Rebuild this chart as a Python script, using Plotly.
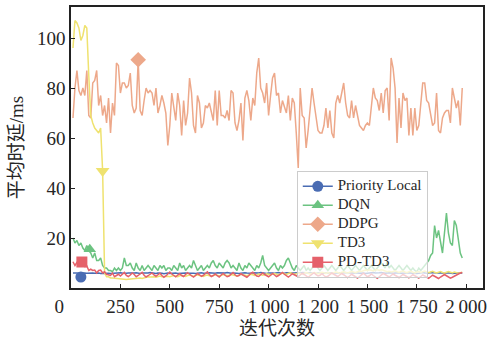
import plotly.graph_objects as go

# ---------------- data ----------------
ITER = list(range(10, 1990, 10))  # iteration grid (198 points)

PRIORITY_LOCAL = [
    6.0,6.1,6.0,5.9,6.0,6.1,6.0,5.9,6.0,6.1,
    6.0,5.9,6.1,6.0,5.8,5.9,6.0,6.1,5.9,5.8,
    5.9,6.0,5.8,5.9,6.1,6.0,5.8,5.9,6.0,5.9,
    5.8,6.0,6.1,5.9,5.8,6.0,5.9,5.8,6.0,6.2,
    6.0,5.9,5.8,6.0,6.1,5.9,5.7,5.9,6.0,5.8,
    5.9,6.1,6.0,5.8,5.9,6.1,6.2,6.0,5.9,6.0,
    6.1,5.9,5.8,6.0,6.2,6.1,5.9,5.8,6.0,6.1,
    6.0,5.8,5.9,6.1,6.0,5.9,5.8,6.0,6.2,6.0,
    5.9,6.0,6.1,5.9,5.8,6.0,5.9,6.1,6.0,5.8,
    5.9,6.1,6.0,5.8,6.0,6.2,6.0,5.9,5.8,6.0,
    6.1,6.0,5.9,6.1,6.2,6.0,5.8,5.9,6.1,6.0,
    5.9,5.8,6.0,6.1,5.9,6.0,6.2,6.1,5.9,5.8,
    6.0,6.1,5.9,5.8,6.0,6.1,6.0,5.9,6.0,6.2,
    6.1,5.9,5.8,6.0,6.1,5.9,6.0,6.2,6.1,5.9,
    5.8,6.0,6.1,6.2,6.0,5.9,6.1,6.0,5.8,5.9,
    6.1,6.3,6.2,6.0,5.9,6.1,6.2,6.0,5.9,6.0,
    6.2,6.1,5.9,6.0,6.2,6.1,5.9,5.8,6.0,6.1,
    6.0,5.9,6.1,6.0,5.8,5.9,6.1,6.2,6.0,5.9,
    6.0,6.2,6.1,5.9,5.8,6.0,6.1,5.9,5.8,6.0,
    6.1,6.0,5.8,5.9,6.1,6.0,5.9,6.0,
]

DQN = [
    20,18,19,17,18,16,15,17,15,14,
    12,14,11,11,12,9,8,8,7,7,
    6.5,8,7,8,7,8,12,9,9,10,
    8,7,10,8,7,9,7,8,9,8,
    7,9,8,7,9,8,9,7,8,8,
    7,9,8,7,10,8,9,7,8,9,
    8,11,9,7,8,9,7,8,9,8,
    10,11,9,8,10,9,8,10,11,10,
    8,9,8,7,10,8,7,9,8,10,
    9,8,7,9,8,10,13,9,8,7,
    8,9,10,8,7,9,8,9,11,12,
    10,8,7,9,8,7,8,9,7,8,
    7,8,9,10,8,7,8,9,8,7,
    8,9,8,7,8,9,8,7,8,9,
    8,7,8,9,8,7,8,9,8,7,
    8,9,8,7,8,9,10,9,8,10.5,
    8,9,8,7,8,9,8,7,8,9,
    8,7,8,7,6.5,8,7,8,9,10,
    11,13,14,25,20,23,18,14,22,30,
    22,18,17,27,25,20,14,12,
]

DDPG = [
    68,80,87,79,77,80,77,87,69,68,
    82,83,87,73,77,69,73,66,76,62,
    74,69,90,89,78,82,82,80,81,86,
    73,70,72,91,71,69,75,80,78,79,
    78,73,80,70,73,77,74,70,57,65,
    78,72,67,78,73,61,75,65,70,84,
    78,65,62,77,74,64,66,73,72,74,
    70,67,79,65,79,69,69,68,71,67,
    79,78,66,63,67,74,59,76,79,75,
    67,76,73,86,92,80,78,74,82,69,
    77,84,86,77,78,70,75,72,70,77,
    67,76,74,62,48,80,69,68,56,63,
    72,80,74,68,63,62,62,65,72,64,
    71,62,60,74,77,74,78,82,74,69,
    68,75,68,73,69,65,64,63,65,66,
    65,74,80,76,75,71,78,70,79,80,
    67,92,88,80,58,76,64,78,75,76,
    61,72,61,72,63,65,75,82,82,75,
    74,70,65,66,78,63,62,68,70,71,
    71,66,80,76,72,75,65,80,
]

TD3 = [
    96,107,106,104,99,101,105,104,85,69,
    66,64,63,62,64,47,6,4.5,4.5,4.0,
    4.0,3.9,3.8,3.6,3.5,3.6,3.5,3.4,3.5,3.6,
    3.4,3.5,3.8,3.9,4.0,3.8,4.1,4.3,4.5,4.4,
    4.6,4.5,4.3,4.7,4.8,4.5,4.6,4.9,4.7,4.5,
    4.8,5.0,4.7,4.5,4.9,5.1,4.8,4.6,5.0,5.2,
    4.9,4.7,5.0,5.3,5.0,4.8,4.6,5.0,5.2,4.9,
    4.7,5.0,5.3,5.1,4.8,5.0,5.4,5.2,4.9,5.1,
    5.4,5.2,5.0,4.8,5.1,5.5,5.3,5.0,4.9,5.2,
    5.5,5.3,5.0,5.2,5.6,5.4,5.1,5.3,5.7,5.5,
    5.2,5.6,5.8,5.5,5.3,5.6,6.0,5.7,5.4,5.8,
    6.1,5.8,5.5,5.7,6.0,5.8,5.5,5.9,6.2,5.9,
    5.6,5.9,6.2,6.0,5.7,6.0,6.3,6.1,5.8,6.2,
    6.0,5.7,6.1,6.4,6.2,5.9,6.3,6.5,6.2,6.0,
    6.3,6.6,6.4,6.1,6.5,6.8,6.6,6.9,7.2,7.0,
    7.3,7.1,6.8,7.2,7.4,7.0,7.3,7.1,6.8,6.5,
    6.7,6.4,6.6,6.9,6.5,6.2,6.6,6.8,6.4,6.1,
    6.5,6.7,6.3,6.0,6.4,6.6,6.2,6.5,6.8,6.4,
    6.1,6.4,6.7,6.3,6.0,6.3,6.6,6.2,5.9,6.3,
    6.6,6.3,6.0,6.4,6.2,5.9,6.1,6.3,
]

PD_TD3 = [
    10.5,9.0,10.2,9.5,10.0,9.2,8.5,8.8,7.0,7.5,
    7.0,7.2,6.0,7.0,7.2,6.0,6.5,5.5,5.2,5.0,
    6.0,4.5,5.0,5.5,4.8,5.5,6.2,5.0,4.6,5.2,
    6.0,5.4,4.5,5.0,5.8,6.3,5.1,4.4,4.9,5.6,
    6.0,5.2,4.7,5.3,5.9,5.0,4.3,4.8,5.5,6.4,
    5.6,4.9,4.5,5.2,5.7,5.0,4.6,5.4,6.1,5.5,
    4.8,4.4,5.0,5.8,5.3,4.7,5.1,5.9,6.5,5.4,
    4.6,5.0,5.6,4.9,4.4,5.2,5.8,5.1,4.5,4.8,
    5.5,6.2,5.3,4.7,5.0,5.7,5.2,4.6,4.3,5.0,
    5.9,6.3,5.5,4.8,4.6,5.3,6.0,5.4,4.9,4.5,
    5.1,5.8,5.2,4.6,5.0,5.6,6.2,5.5,4.8,4.4,
    5.0,5.7,5.3,4.9,4.5,5.2,5.9,5.4,4.7,4.3,
    4.9,5.6,6.1,5.3,4.8,5.1,5.7,5.0,4.4,4.7,
    5.4,6.0,5.5,4.9,4.6,5.2,5.8,5.3,4.7,4.2,
    4.8,5.5,5.0,4.4,4.0,4.6,5.3,5.9,5.2,4.5,
    4.9,5.6,5.0,4.3,3.9,4.5,5.2,5.8,5.4,4.8,
    4.4,5.0,5.6,5.1,4.6,4.2,4.8,5.4,5.0,4.5,
    4.1,4.7,5.3,4.9,4.4,4.0,4.6,5.2,4.8,4.3,
    3.9,4.5,5.1,4.7,4.2,3.8,4.4,5.0,5.4,4.9,
    4.4,3.9,4.3,4.8,5.3,5.7,6.0,6.2,
]

# single highlighted marker for each series (x, y)
MARK_X = {"Priority Local": [50], "DQN": [95], "DDPG": [340], "TD3": [160], "PD-TD3": [55]}
MARK_Y = {"Priority Local": [4.4], "DQN": [15.5], "DDPG": [91.3], "TD3": [46.8], "PD-TD3": [10.4]}

SERIES_NAMES = ["Priority Local", "DQN", "DDPG", "TD3", "PD-TD3"]
SERIES_VALUES = [PRIORITY_LOCAL, DQN, DDPG, TD3, PD_TD3]
COLORS = ["#4a6cb3", "#6cc381", "#eda88a", "#efe26f", "#e5616a"]
SYMBOLS = ["circle", "triangle-up", "diamond", "triangle-down", "square"]
MSIZES = [11, 11, 12, 12, 11]

XTICK_VALS = [0, 250, 500, 750, 1000, 1250, 1500, 1750, 2000]
XTICK_TEXT = ["0\u00a0\u00a0\u00a0\u00a0\u00a0", "250", "500", "750", "1\u2009000", "1\u2009200",
              "1\u2009500", "1\u2009750", "2\u2009000"]
YTICK_VALS = [20, 40, 60, 80, 100]

X_TITLE = "迭代次数"
Y_TITLE = "平均时延/ms"

SERIF = "Liberation Serif, Times New Roman, Noto Sans CJK SC, serif"
TXT = "#262626"

fig = go.Figure()
for name, vals, col in zip(SERIES_NAMES, SERIES_VALUES, COLORS):
    fig.add_trace(go.Scatter(
        x=ITER[:len(vals)], y=vals, mode="lines", name=name,
        line=dict(color=col, width=1.5), showlegend=False,
        legendgroup=name, hoverinfo="skip"))

for name, col, sym, ms in zip(SERIES_NAMES, COLORS, SYMBOLS, MSIZES):
    fig.add_trace(go.Scatter(
        x=MARK_X[name], y=MARK_Y[name], mode="lines+markers",
        name='<span style="font-size:15px">%s</span>' % name,
        line=dict(color=col, width=1.5),
        marker=dict(symbol=sym, size=ms, color=col, line=dict(width=0)),
        legendgroup=name, showlegend=True))

axis_common = dict(
    showline=True, linecolor="#222222", linewidth=1.5, mirror=True,
    ticks="inside", ticklen=4, tickwidth=1.2, tickcolor="#222222",
    showgrid=False, zeroline=False,
    tickfont=dict(family=SERIF, size=19, color=TXT),
)

fig.update_layout(
    width=490, height=342,
    margin=dict(l=71, r=3, t=7, b=54),
    paper_bgcolor="white", plot_bgcolor="white",
    font=dict(family=SERIF, color=TXT),
    xaxis=dict(range=[0, 2085], tickmode="array", tickvals=XTICK_VALS, ticktext=XTICK_TEXT,
               title=dict(text=X_TITLE, font=dict(family=SERIF, size=19, color=TXT), standoff=6),
               **axis_common),
    yaxis=dict(range=[0, 112.4], tickmode="array", tickvals=YTICK_VALS,
               title=dict(text=Y_TITLE, font=dict(family=SERIF, size=19, color=TXT), standoff=8),
               **axis_common),
    legend=dict(x=0.548, y=0.417, xanchor="left", yanchor="top",
                font=dict(family=SERIF, size=10, color=TXT),
                bgcolor="rgba(255,255,255,0.7)", bordercolor="#cccccc", borderwidth=1,
                tracegroupgap=0),
    showlegend=True,
)

fig.write_html("out.html")
